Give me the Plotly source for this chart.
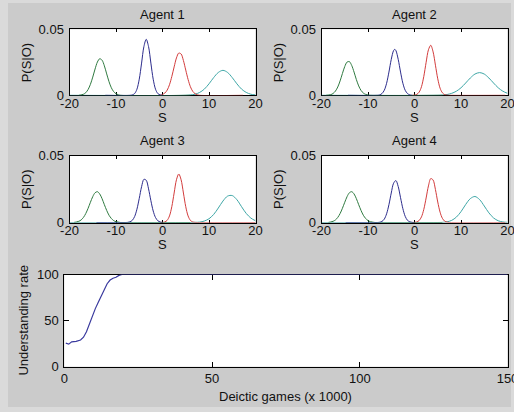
import plotly.graph_objects as go

# ---------------- data ----------------
S_TICKS = [-20, -10, 0, 10, 20]
S_TICKTEXT = ["-20", "-10", "0", "10", "20"]
P_TICKS = [0, 0.05]
P_TICKTEXT = ["0", "0.05"]
GAME_TICKS = [0, 50, 100, 150]
RATE_TICKS = [0, 50, 100]
AGENTS = ["Agent 1", "Agent 2", "Agent 3", "Agent 4"]

# Agent 1
A1_CYAN_S = [-20, 5, 6, 7, 8, 9, 10, 11, 12, 13, 14, 15, 16, 17, 18, 19, 20]
A1_CYAN_P = [0, 0, 0.0003, 0.0008, 0.0022, 0.0047, 0.0087, 0.0134, 0.0173, 0.0189, 0.0173, 0.0134, 0.0087, 0.0047, 0.0022, 0.0008, 0.0003]
A1_RED_S = [-0.5, 0, 0.5, 1, 1.5, 2, 2.5, 3, 3.5, 4, 4.5, 5, 5.5, 6, 6.5, 7, 7.5, 8, 17.3]
A1_RED_P = [0, 0.0006, 0.0017, 0.0039, 0.0080, 0.0142, 0.0215, 0.0283, 0.0320, 0.0313, 0.0263, 0.0191, 0.0120, 0.0065, 0.0030, 0.0012, 0.0004, 0, 0]
A1_GREEN_S = [-18, -17.5, -17, -16.5, -16, -15.5, -15, -14.5, -14, -13.5, -13, -12.5, -12, -11.5, -11, -10.5, -10, -9.5, -9, 6]
A1_GREEN_P = [0, 0.0003, 0.0008, 0.0020, 0.0044, 0.0083, 0.0138, 0.0199, 0.0252, 0.0277, 0.0266, 0.0223, 0.0162, 0.0103, 0.0057, 0.0028, 0.0012, 0.0004, 0, 0]
A1_BLUE_S = [-12.3, -7, -6.5, -6, -5.5, -5, -4.5, -4, -3.5, -3, -2.5, -2, -1.5, -1, -0.5, 0]
A1_BLUE_P = [0, 0, 0.0003, 0.0013, 0.0046, 0.0122, 0.0244, 0.0369, 0.0424, 0.0369, 0.0244, 0.0122, 0.0046, 0.0013, 0.0003, 0]

# Agent 2
A2_CYAN_S = [-20, 5, 6, 7, 8, 9, 10, 11, 12, 13, 14, 15, 16, 17, 18, 19, 20]
A2_CYAN_P = [0, 0, 0.0002, 0.0006, 0.0015, 0.0031, 0.0057, 0.0093, 0.0131, 0.0161, 0.0172, 0.0161, 0.0131, 0.0093, 0.0057, 0.0031, 0.0015]
A2_RED_S = [-0.5, 0, 0.5, 1, 1.5, 2, 2.5, 3, 3.5, 4, 4.5, 5, 5.5, 6, 6.5, 7, 7.5, 19.5]
A2_RED_P = [0, 0.0002, 0.0007, 0.0024, 0.0065, 0.0143, 0.0250, 0.0345, 0.0379, 0.0329, 0.0228, 0.0125, 0.0054, 0.0019, 0.0005, 0.0001, 0, 0]
A2_GREEN_S = [-19, -18.5, -18, -17.5, -17, -16.5, -16, -15.5, -15, -14.5, -14, -13.5, -13, -12.5, -12, -11.5, -11, -10.5, -10, -9.5, 6]
A2_GREEN_P = [0, 0.0002, 0.0005, 0.0014, 0.0032, 0.0063, 0.0109, 0.0165, 0.0218, 0.0252, 0.0255, 0.0226, 0.0176, 0.0119, 0.0071, 0.0037, 0.0017, 0.0007, 0.0002, 0, 0]
A2_BLUE_S = [-14.3, -8, -7.5, -7, -6.5, -6, -5.5, -5, -4.5, -4.25, -4, -3.5, -3, -2.5, -2, -1.5, -1, -0.5]
A2_BLUE_P = [0, 0, 0.0003, 0.0013, 0.0038, 0.0091, 0.0176, 0.0272, 0.0339, 0.0348, 0.0339, 0.0272, 0.0176, 0.0091, 0.0038, 0.0013, 0.0003, 0]

# Agent 3
A3_CYAN_S = [-20, 6, 7, 8, 9, 10, 11, 12, 13, 14, 15, 16, 17, 18, 19, 20]
A3_CYAN_P = [0, 0, 0.0001, 0.0003, 0.0011, 0.0028, 0.0060, 0.0108, 0.0160, 0.0197, 0.0201, 0.0170, 0.0118, 0.0068, 0.0033, 0.0013]
A3_RED_S = [-0.5, 0, 0.5, 1, 1.5, 2, 2.5, 3, 3.5, 4, 4.5, 5, 5.5, 6, 6.5, 7, 7.5, 20]
A3_RED_P = [0, 0.0001, 0.0004, 0.0016, 0.0049, 0.0118, 0.0220, 0.0319, 0.0362, 0.0319, 0.0220, 0.0118, 0.0049, 0.0016, 0.0004, 0.0001, 0, 0]
A3_GREEN_S = [-19, -18.5, -18, -17.5, -17, -16.5, -16, -15.5, -15, -14.5, -14, -13.5, -13, -12.5, -12, -11.5, -11, -10.5, -10, -9.5, -9, 6]
A3_GREEN_P = [0.0001, 0.0004, 0.0009, 0.0019, 0.0038, 0.0067, 0.0106, 0.0151, 0.0193, 0.0222, 0.0230, 0.0213, 0.0178, 0.0133, 0.0090, 0.0054, 0.0030, 0.0014, 0.0006, 0.0003, 0, 0]
A3_BLUE_S = [-14.2, -8, -7.5, -7, -6.5, -6, -5.5, -5, -4.5, -4, -3.5, -3, -2.5, -2, -1.5, -1, -0.5, 0]
A3_BLUE_P = [0, 0, 0.0001, 0.0005, 0.0016, 0.0044, 0.0099, 0.0180, 0.0267, 0.0322, 0.0315, 0.0251, 0.0163, 0.0086, 0.0037, 0.0013, 0.0004, 0]

# Agent 4
A4_CYAN_S = [-20, 5, 6, 7, 8, 9, 10, 11, 12, 13, 14, 15, 16, 17, 18, 19, 20]
A4_CYAN_P = [0, 0, 0.0001, 0.0005, 0.0016, 0.0040, 0.0081, 0.0134, 0.0178, 0.0194, 0.0171, 0.0123, 0.0072, 0.0034, 0.0013, 0.0004, 0.0001]
A4_RED_S = [-0.5, 0, 0.5, 1, 1.5, 2, 2.5, 3, 3.5, 4, 4.5, 5, 5.5, 6, 6.5, 7, 7.5, 19.5]
A4_RED_P = [0, 0.0001, 0.0004, 0.0015, 0.0042, 0.0098, 0.0183, 0.0273, 0.0328, 0.0317, 0.0246, 0.0153, 0.0077, 0.0031, 0.0010, 0.0003, 0, 0]
A4_GREEN_S = [-18.5, -18, -17.5, -17, -16.5, -16, -15.5, -15, -14.5, -14, -13.5, -13, -12.5, -12, -11.5, -11, -10.5, -10, -9.5, -9, -8.5, 6]
A4_GREEN_P = [0.0001, 0.0004, 0.0009, 0.0019, 0.0038, 0.0067, 0.0106, 0.0151, 0.0193, 0.0222, 0.0230, 0.0213, 0.0178, 0.0133, 0.0090, 0.0054, 0.0030, 0.0014, 0.0006, 0.0003, 0, 0]
A4_BLUE_S = [-14.8, -8, -7.5, -7, -6.5, -6, -5.5, -5, -4.5, -4, -3.5, -3, -2.5, -2, -1.5, -1, -0.5, 0]
A4_BLUE_P = [0, 0, 0.0002, 0.0008, 0.0025, 0.0065, 0.0133, 0.0220, 0.0293, 0.0313, 0.0268, 0.0185, 0.0103, 0.0046, 0.0016, 0.0005, 0.0001, 0]

# Understanding rate over deictic games (x 1000)
GAMES = [0.5, 1.5, 2.5, 4, 5.5, 6.5, 7.5, 8.5, 9.5, 10.5, 11.5, 12.5, 13.5, 14.5, 15.5, 16.5, 17.5, 18.5, 19.5, 150]
RATE = [25.5, 24.5, 27, 27.5, 29, 32, 38, 47, 55, 63, 70, 77, 84, 90, 94, 96, 97, 99, 100, 100]

# ---------------- styling ----------------
W, H = 514, 412
FONT = "Liberation Sans, Arial, Helvetica, sans-serif"
FS = 13
TXT = "#111111"
BG = "#cbcbcb"
EDGE = "#dadada"
C_BLUE, C_GREEN, C_RED, C_CYAN = "#2c2c8c", "#2f7a40", "#d23c3c", "#3ea6a6"

def px_x(p):
    return p / W

def px_y(p):
    return 1 - p / H

panels = [
    [(A1_CYAN_S, A1_CYAN_P, C_CYAN), (A1_RED_S, A1_RED_P, C_RED), (A1_GREEN_S, A1_GREEN_P, C_GREEN), (A1_BLUE_S, A1_BLUE_P, C_BLUE)],
    [(A2_CYAN_S, A2_CYAN_P, C_CYAN), (A2_RED_S, A2_RED_P, C_RED), (A2_GREEN_S, A2_GREEN_P, C_GREEN), (A2_BLUE_S, A2_BLUE_P, C_BLUE)],
    [(A3_CYAN_S, A3_CYAN_P, C_CYAN), (A3_RED_S, A3_RED_P, C_RED), (A3_GREEN_S, A3_GREEN_P, C_GREEN), (A3_BLUE_S, A3_BLUE_P, C_BLUE)],
    [(A4_CYAN_S, A4_CYAN_P, C_CYAN), (A4_RED_S, A4_RED_P, C_RED), (A4_GREEN_S, A4_GREEN_P, C_GREEN), (A4_BLUE_S, A4_BLUE_P, C_BLUE)],
]

# pixel boxes: (left, right, top, bottom)
boxes = [
    (69.5, 255.5, 29.3, 95.3),
    (321.5, 507.5, 29.3, 95.3),
    (69.5, 255.5, 155.5, 222.5),
    (321.5, 507.5, 155.5, 222.5),
]
bottom_box = (64.3, 507.5, 274.5, 366.7)

fig = go.Figure()
layout = dict(
    width=W, height=H,
    margin=dict(l=0, r=0, t=0, b=0, pad=0, autoexpand=False),
    paper_bgcolor=BG, plot_bgcolor="white",
    showlegend=False,
    font=dict(family=FONT, size=FS, color=TXT),
)

def axis_common(ticklen):
    return dict(showline=True, linecolor="black", linewidth=1, mirror="ticks",
                ticks="inside", ticklen=ticklen, tickcolor="black", tickwidth=1,
                showgrid=False, zeroline=False, fixedrange=True, automargin=False,
                ticklabeloverflow="allow",
                tickfont=dict(family=FONT, size=FS, color=TXT), layer="below traces")

annotations = []
for i, (curves, box, name) in enumerate(zip(panels, boxes, AGENTS), start=1):
    xa = "x" if i == 1 else f"x{i}"
    ya = "y" if i == 1 else f"y{i}"
    for S, P, col in curves:
        fig.add_trace(go.Scatter(x=S, y=P, mode="lines", xaxis=xa, yaxis=ya,
                                 line=dict(color=col, width=1, shape="spline", smoothing=0.9),
                                 hoverinfo="skip"))
    l, r, t, b = box
    xk = "xaxis" if i == 1 else f"xaxis{i}"
    yk = "yaxis" if i == 1 else f"yaxis{i}"
    layout[xk] = dict(axis_common(3), domain=[px_x(l), px_x(r)], anchor=ya, range=[-20, 20],
                      tickvals=S_TICKS, ticktext=S_TICKTEXT, ticklabelstandoff=-4)
    layout[yk] = dict(axis_common(3), domain=[px_y(b), px_y(t)], anchor=xa, range=[0, 0.05],
                      tickvals=P_TICKS, ticktext=P_TICKTEXT, ticklabelstandoff=2)
    cx = (l + r) / 2
    annotations.append(dict(text=name, x=px_x(cx), y=px_y(t - 14.5), xref="paper", yref="paper",
                            showarrow=False, xanchor="center", yanchor="middle"))
    annotations.append(dict(text="S", x=px_x(cx), y=px_y(b + 22.5), xref="paper", yref="paper",
                            showarrow=False, xanchor="center", yanchor="middle"))
    annotations.append(dict(text="P(S|O)", x=px_x(l - 43.5), y=px_y((t + b) / 2), xref="paper", yref="paper",
                            showarrow=False, xanchor="center", yanchor="middle", textangle=-90))

fig.add_trace(go.Scatter(x=GAMES, y=RATE, mode="lines", xaxis="x5", yaxis="y5",
                         line=dict(color="#3a3a9e", width=1.2), hoverinfo="skip"))
l, r, t, b = bottom_box
layout["xaxis5"] = dict(axis_common(5), domain=[px_x(l), px_x(r)], anchor="y5", range=[0, 150],
                        tickvals=GAME_TICKS, ticklabelstandoff=0)
layout["yaxis5"] = dict(axis_common(5), domain=[px_y(b), px_y(t)], anchor="x5", range=[0, 100],
                        tickvals=RATE_TICKS, ticklabelstandoff=2)
annotations.append(dict(text="Deictic games (x 1000)", x=px_x((l + r) / 2), y=px_y(b + 30), xref="paper", yref="paper",
                        showarrow=False, xanchor="center", yanchor="middle"))
annotations.append(dict(text="Understanding rate", x=px_x(24), y=px_y((t + b) / 2), xref="paper", yref="paper",
                        showarrow=False, xanchor="center", yanchor="middle", textangle=-90))

# lighter window frame around the grey figure area
shapes = []
for x0, x1, y0, y1 in [(0, 8, 0, H), (511, W, 0, H), (0, W, 0, 3), (0, W, 407, H)]:
    shapes.append(dict(type="rect", xref="paper", yref="paper",
                       x0=px_x(x0), x1=px_x(x1), y0=px_y(y1), y1=px_y(y0),
                       fillcolor=EDGE, line=dict(width=0), layer="below"))

layout["annotations"] = annotations
layout["shapes"] = shapes
fig.update_layout(**layout)
fig.write_html("out.html", config={"displayModeBar": False, "staticPlot": True},
               post_script="document.body.style.margin='0';document.body.style.padding='0';document.body.style.overflow='hidden';")
